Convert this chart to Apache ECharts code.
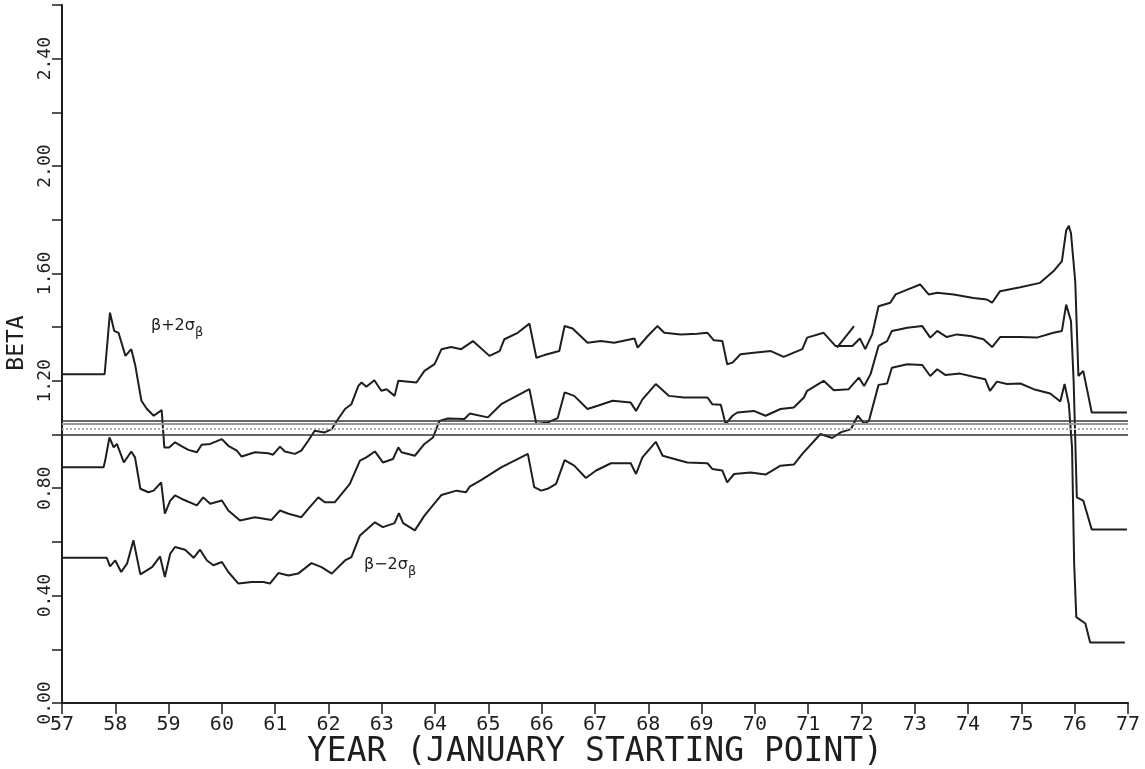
<!DOCTYPE html>
<html>
<head>
<meta charset="utf-8">
<script src="https://cdn.jsdelivr.net/npm/echarts@6/dist/echarts.min.js"></script>
<style>
html,body{margin:0;padding:0;background:#fff}
#chart{width:1145px;height:769px}
</style>
</head>
<body>
<div id="chart"></div>
<script>
// beta + 2 sigma  [year, beta]
let upperBand = [
    [57.0,1.225],[57.8,1.225],[57.90,1.454],[57.98,1.386],[58.06,1.379],[58.19,1.293],[58.30,1.318],[58.37,1.262],
    [58.49,1.126],[58.59,1.096],[58.72,1.070],[58.87,1.091],[58.92,0.952],[59.01,0.952],[59.12,0.971],[59.25,0.956],
    [59.37,0.943],[59.53,0.934],[59.62,0.962],[59.78,0.965],[60.00,0.983],[60.12,0.958],[60.28,0.940],[60.37,0.918],
    [60.62,0.934],[60.87,0.930],[60.96,0.925],[61.09,0.955],[61.18,0.937],[61.37,0.928],[61.49,0.940],[61.62,0.977],
    [61.74,1.014],[61.93,1.008],[62.06,1.020],[62.18,1.058],[62.31,1.095],[62.43,1.113],[62.56,1.181],[62.62,1.194],
    [62.71,1.178],[62.86,1.202],[62.99,1.163],[63.09,1.169],[63.24,1.144],[63.31,1.200],[63.65,1.194],[63.80,1.237],
    [63.99,1.262],[64.12,1.318],[64.30,1.326],[64.49,1.318],[64.71,1.348],[65.02,1.293],[65.21,1.311],[65.30,1.355],
    [65.55,1.379],[65.77,1.413],[65.90,1.286],[66.05,1.296],[66.33,1.311],[66.43,1.404],[66.58,1.395],[66.86,1.342],
    [67.11,1.348],[67.36,1.342],[67.74,1.358],[67.80,1.324],[67.99,1.367],[68.17,1.404],[68.30,1.379],[68.61,1.373],
    [68.92,1.375],[69.11,1.379],[69.23,1.351],[69.39,1.348],[69.48,1.262],[69.58,1.268],[69.73,1.299],[69.98,1.305],
    [70.30,1.311],[70.54,1.289],[70.73,1.305],[70.89,1.318],[70.98,1.361],[71.29,1.379],[71.51,1.330],[71.83,1.330],
    [71.97,1.358],[72.07,1.318],[72.20,1.373],[72.32,1.478],[72.54,1.491],[72.64,1.522],[72.86,1.540],[73.10,1.559],
    [73.26,1.522],[73.42,1.528],[73.73,1.522],[74.10,1.509],[74.35,1.503],[74.45,1.491],[74.60,1.534],[74.98,1.549],
    [75.35,1.565],[75.60,1.608],[75.76,1.646],[75.84,1.760],[75.89,1.778],[75.93,1.750],[76.01,1.571],[76.07,1.218],
    [76.16,1.237],[76.32,1.082],[76.98,1.082]
]
// beta
let betaLine = [
    [57.0,0.878],[57.78,0.878],[57.81,0.903],[57.89,0.989],[57.97,0.952],[58.03,0.965],[58.16,0.896],[58.30,0.937],
    [58.37,0.915],[58.47,0.798],[58.62,0.785],[58.72,0.791],[58.86,0.822],[58.93,0.705],[59.03,0.754],[59.12,0.773],
    [59.25,0.760],[59.53,0.736],[59.65,0.766],[59.78,0.742],[60.00,0.754],[60.12,0.717],[60.34,0.680],[60.62,0.692],
    [60.93,0.682],[61.09,0.717],[61.25,0.705],[61.49,0.692],[61.62,0.723],[61.81,0.766],[61.93,0.748],[62.12,0.748],
    [62.40,0.816],[62.59,0.903],[62.71,0.915],[62.87,0.937],[63.02,0.896],[63.21,0.909],[63.31,0.952],[63.37,0.934],
    [63.62,0.921],[63.80,0.965],[63.96,0.989],[64.08,1.051],[64.24,1.060],[64.55,1.058],[64.65,1.078],[64.99,1.064],
    [65.24,1.113],[65.77,1.169],[65.90,1.039],[66.11,1.045],[66.30,1.061],[66.43,1.157],[66.61,1.144],[66.86,1.095],
    [67.05,1.107],[67.33,1.126],[67.67,1.119],[67.77,1.088],[67.89,1.131],[68.14,1.188],[68.39,1.144],[68.67,1.138],
    [69.11,1.138],[69.20,1.113],[69.36,1.111],[69.45,1.039],[69.58,1.070],[69.67,1.082],[69.98,1.088],[70.20,1.070],
    [70.48,1.095],[70.73,1.101],[70.92,1.138],[70.98,1.163],[71.29,1.200],[71.48,1.165],[71.76,1.169],[71.95,1.212],
    [72.05,1.181],[72.17,1.225],[72.32,1.330],[72.48,1.348],[72.57,1.386],[72.86,1.398],[73.14,1.404],[73.29,1.361],
    [73.42,1.386],[73.60,1.363],[73.79,1.373],[74.04,1.367],[74.29,1.355],[74.45,1.326],[74.60,1.363],[74.98,1.363],
    [75.29,1.361],[75.60,1.379],[75.76,1.386],[75.84,1.484],[75.93,1.423],[75.98,1.200],[76.04,0.766],[76.16,0.754],
    [76.32,0.646],[76.98,0.646]
]
// beta - 2 sigma
let lowerBand = [
    [57.0,0.541],[57.84,0.541],[57.90,0.509],[58.00,0.531],[58.11,0.488],[58.22,0.519],[58.34,0.606],[58.47,0.479],
    [58.69,0.506],[58.84,0.546],[58.93,0.469],[59.03,0.556],[59.12,0.581],[59.31,0.571],[59.47,0.541],[59.59,0.571],
    [59.72,0.531],[59.84,0.513],[60.00,0.525],[60.12,0.488],[60.31,0.445],[60.56,0.451],[60.78,0.451],[60.90,0.445],
    [61.06,0.484],[61.25,0.475],[61.43,0.482],[61.68,0.521],[61.87,0.506],[62.06,0.482],[62.31,0.531],[62.43,0.543],
    [62.59,0.624],[62.87,0.673],[63.02,0.655],[63.24,0.670],[63.32,0.707],[63.40,0.670],[63.62,0.643],[63.80,0.698],
    [64.12,0.775],[64.40,0.791],[64.58,0.785],[64.65,0.806],[64.87,0.831],[65.24,0.878],[65.74,0.928],[65.86,0.804],
    [65.99,0.791],[66.11,0.798],[66.27,0.816],[66.43,0.905],[66.61,0.884],[66.83,0.838],[67.02,0.866],[67.30,0.893],
    [67.67,0.893],[67.77,0.853],[67.89,0.915],[68.14,0.973],[68.27,0.921],[68.49,0.909],[68.73,0.896],[69.11,0.893],
    [69.20,0.872],[69.39,0.866],[69.48,0.822],[69.61,0.853],[69.92,0.859],[70.20,0.851],[70.48,0.884],[70.73,0.888],
    [70.89,0.928],[71.23,1.002],[71.45,0.987],[71.61,1.008],[71.80,1.020],[71.93,1.070],[72.05,1.041],[72.14,1.051],
    [72.32,1.185],[72.48,1.190],[72.57,1.249],[72.86,1.262],[73.14,1.259],[73.29,1.218],[73.42,1.243],[73.57,1.222],
    [73.85,1.227],[74.10,1.215],[74.32,1.206],[74.41,1.163],[74.54,1.197],[74.73,1.188],[74.98,1.190],[75.23,1.169],
    [75.54,1.153],[75.73,1.123],[75.81,1.188],[75.89,1.113],[75.95,0.952],[75.99,0.519],[76.03,0.320],[76.20,0.296],
    [76.29,0.225],[76.94,0.225]
]
// short stray pen stroke near 71-72
let strayStroke = [[71.54,1.324],[71.86,1.404]]
// reference lines around beta = 1
let refLevels = [1.0, 1.022, 1.037, 1.051]
let refColors = ["#333", "#aaa", "#999", "#333"]

let yearMin = 57, yearMax = 77
let betaMin = 0, betaMax = 2.6

let FONT = "DejaVu Sans Mono"
let INK = "#1e1e1e"

let chart = echarts.init(document.getElementById("chart"), null, {renderer: "canvas"})

function lineSeries(name, data){
    return {
        name: name,
        type: "line",
        data: data,
        showSymbol: false,
        symbol: "none",
        silent: true,
        lineStyle: {color: INK, width: 2},
        z: 3
    }
}

let series = [
    lineSeries("β+2σβ", upperBand),
    lineSeries("β", betaLine),
    lineSeries("β-2σβ", lowerBand),
    lineSeries("stray", strayStroke)
]
series[0].markLine = {
    silent: true,
    symbol: "none",
    label: {show: false},
    data: refLevels.map((v, i) => ({
        yAxis: v,
        lineStyle: {color: refColors[i], width: i == 1 || i == 2 ? 2 : 1.5, type: i == 1 ? "dotted" : "solid"}
    }))
}

let option = {
    backgroundColor: "#fff",
    animation: false,
    grid: {left: 62, right: 17, top: 5, bottom: 66, outerBoundsMode: "none", containLabel: false},
    xAxis: {
        type: "value",
        min: yearMin,
        max: yearMax,
        interval: 1,
        name: "YEAR (JANUARY STARTING POINT)",
        nameLocation: "middle",
        nameGap: 33,
        nameMoveOverlap: false,
        nameTextStyle: {fontFamily: FONT, fontSize: 33, color: INK},
        axisLine: {lineStyle: {color: INK, width: 2}},
        axisTick: {length: 11, lineStyle: {color: INK, width: 1.5}},
        axisLabel: {fontFamily: FONT, fontSize: 20, color: INK, margin: 12},
        splitLine: {show: false}
    },
    yAxis: {
        type: "value",
        min: betaMin,
        max: betaMax,
        interval: 0.2,
        axisLine: {show: true, lineStyle: {color: INK, width: 2}},
        axisTick: {show: true, length: 10, lineStyle: {color: INK, width: 1.5}},
        axisLabel: {
            rotate: 90,
            fontFamily: FONT, fontSize: 18, color: INK, margin: 8,
            formatter: v => (Math.round(v * 10) % 4 == 0 ? v.toFixed(2) : "")
        },
        splitLine: {show: false}
    },
    graphic: [
        {
            type: "text", x: 17, y: 343, rotation: Math.PI / 2, silent: true,
            style: {text: "BETA", fontFamily: FONT, fontSize: 23, fill: INK, align: "center", verticalAlign: "middle"}
        },
        {
            type: "text", left: 151, top: 318, silent: true,
            style: {
                text: "{a|β+2σ}{s|β}",
                rich: {
                    a: {fontFamily: "DejaVu Sans", fontSize: 16, fill: INK},
                    s: {fontFamily: "DejaVu Sans", fontSize: 13, fill: INK, padding: [14, 0, 0, 0]}
                }
            }
        },
        {
            type: "text", left: 364, top: 557, silent: true,
            style: {
                text: "{a|β−2σ}{s|β}",
                rich: {
                    a: {fontFamily: "DejaVu Sans", fontSize: 16, fill: INK},
                    s: {fontFamily: "DejaVu Sans", fontSize: 13, fill: INK, padding: [14, 0, 0, 0]}
                }
            }
        }
    ],
    series: series
}

chart.setOption(option)
</script>
</body>
</html>
